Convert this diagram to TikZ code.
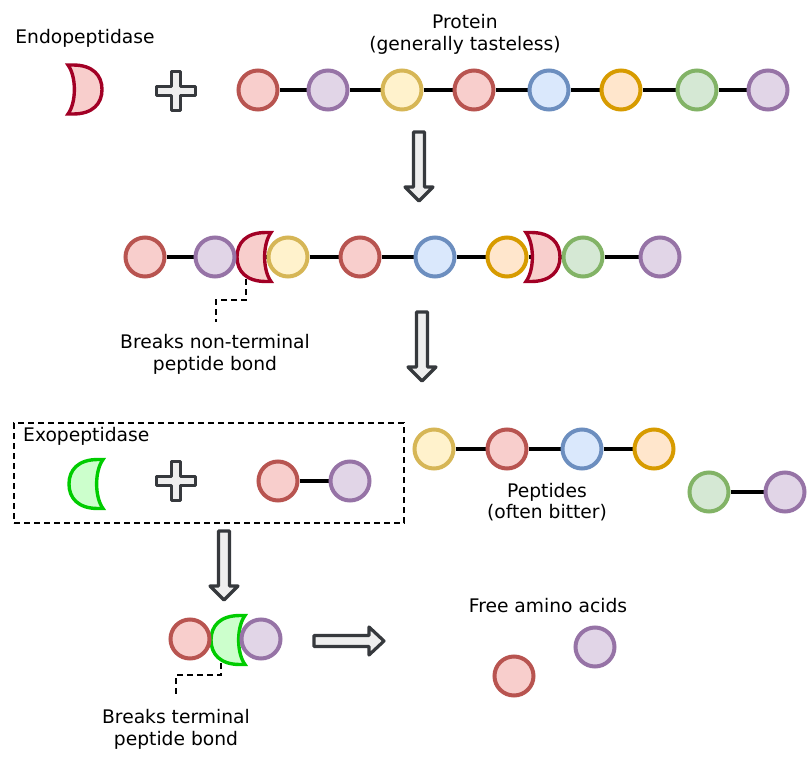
\documentclass[tikz,border=0pt]{standalone}
\usepackage{fontspec}
\setmainfont{DejaVu Sans}
\pgfdeclarelayer{bonds}
\pgfdeclarelayer{enz}
\pgfsetlayers{bonds,enz,main}
\definecolor{redF}{HTML}{F8CECC}\definecolor{redD}{HTML}{B85450}
\definecolor{purF}{HTML}{E1D5E7}\definecolor{purD}{HTML}{9673A6}
\definecolor{yelF}{HTML}{FFF2CC}\definecolor{yelD}{HTML}{D6B656}
\definecolor{bluF}{HTML}{DAE8FC}\definecolor{bluD}{HTML}{6C8EBF}
\definecolor{oraF}{HTML}{FFE6CC}\definecolor{oraD}{HTML}{D79B00}
\definecolor{greF}{HTML}{D5E8D4}\definecolor{greD}{HTML}{82B366}
\definecolor{endoF}{HTML}{F8CECC}\definecolor{endoD}{HTML}{A20025}
\definecolor{exoF}{HTML}{CCFFCC}\definecolor{exoD}{HTML}{00CC00}
\definecolor{arrF}{HTML}{EEEEEE}\definecolor{arrD}{HTML}{36393D}
\tikzset{
  aa/.style={circle, minimum size=39pt, inner sep=0pt, line width=4pt},
  aared/.style={aa, fill=redF, draw=redD},
  aapur/.style={aa, fill=purF, draw=purD},
  aayel/.style={aa, fill=yelF, draw=yelD},
  aablu/.style={aa, fill=bluF, draw=bluD},
  aaora/.style={aa, fill=oraF, draw=oraD},
  aagre/.style={aa, fill=greF, draw=greD},
  bond/.style={line width=4pt, black},
  callout/.style={line width=2pt, dash pattern=on 6pt off 4pt},
  lbl/.style={font=\fontsize{18.7}{22}\selectfont, align=center, inner sep=0pt, text=black},
  blockshape/.style={fill=arrF, draw=arrD, line width=3.2pt, line join=round},
  endostyle/.style={fill=endoF, draw=endoD, line width=3.4pt, line join=miter},
  exostyle/.style={fill=exoF, draw=exoD, line width=3.4pt, line join=miter},
  enzyme/.pic={
    \path[pic actions] (-17,-24.5) -- (-12,-24.5) .. controls (8,-24.5) and (17,-14) .. (17,0)
      .. controls (17,14) and (8,24.5) .. (-12,24.5) -- (-17,24.5)
      .. controls (-8.5,13) and (-8.5,-13) .. (-17,-24.5) -- cycle;
  },
  plussign/.pic={
    \path[pic actions] (-4.5,-19.5) -- (4.5,-19.5) -- (4.5,-4.5) -- (19.5,-4.5) -- (19.5,4.5) -- (4.5,4.5)
      -- (4.5,19.5) -- (-4.5,19.5) -- (-4.5,4.5) -- (-19.5,4.5) -- (-19.5,-4.5) -- (-4.5,-4.5) -- cycle;
  },
  downarrow/.pic={
    \path[pic actions] (-5.5,0) -- (5.5,0) -- (5.5,55) -- (14,55) -- (0,69) -- (-14,55) -- (-5.5,55) -- cycle;
  },
  rightarrow/.pic={
    \path[pic actions] (0,-5.5) -- (55,-5.5) -- (55,-14) -- (70,0) -- (55,14) -- (55,5.5) -- (0,5.5) -- cycle;
  },
}
\begin{document}
\begin{tikzpicture}[x=1pt,y=-1pt]
\useasboundingbox (0,0) rectangle (807,761);

% ---------- Row 1: endopeptidase + protein ----------
\node[lbl] (tEndo) at (85,38) {Endopeptidase};
\begin{pgfonlayer}{enz}
\pic[endostyle] at (85,89.5) {enzyme};
\end{pgfonlayer}
\pic[blockshape] at (176,91) {plussign};
\node[lbl] (tProt) at (465,34) {Protein\\(generally tasteless)};
\node[aared] (p1) at (258,90) {};
\node[aapur] (p2) at (328,90) {};
\node[aayel] (p3) at (402,90) {};
\node[aared] (p4) at (474,90) {};
\node[aablu] (p5) at (549,90) {};
\node[aaora] (p6) at (621,90) {};
\node[aagre] (p7) at (697,90) {};
\node[aapur] (p8) at (768,90) {};
\begin{pgfonlayer}{bonds}
\foreach \a/\b in {p1/p2,p2/p3,p3/p4,p4/p5,p5/p6,p6/p7,p7/p8} \draw[bond] (\a) -- (\b);
\end{pgfonlayer}

\pic[blockshape] at (419,132) {downarrow};

% ---------- Row 2: endopeptidase cutting ----------
\node[aared] (q1) at (145,257) {};
\node[aapur] (q2) at (215,257) {};
\node[aayel] (q3) at (288,257) {};
\node[aared] (q4) at (360,257) {};
\node[aablu] (q5) at (435,257) {};
\node[aaora] (q6) at (507,257) {};
\node[aagre] (q7) at (583,257) {};
\node[aapur] (q8) at (660,257) {};
\begin{pgfonlayer}{bonds}
\foreach \a/\b in {q1/q2,q2/q3,q3/q4,q4/q5,q5/q6,q6/q7,q7/q8} \draw[bond] (\a) -- (\b);
\end{pgfonlayer}
\begin{pgfonlayer}{enz}
\pic[endostyle, xscale=-1] at (254,257) {enzyme};
\pic[endostyle] at (543,257) {enzyme};
\end{pgfonlayer}
\coordinate (c1s) at (246,279);
\coordinate (c1e) at (216,322);
\draw[callout] (c1s) -- ++(0,21) -| (c1e);
\node[lbl] (tBreak1) at (215,354) {Breaks non-terminal\\peptide bond};

\pic[blockshape] at (422,312) {downarrow};

% ---------- Row 3: exopeptidase + peptides ----------
\node[draw, line width=2pt, dash pattern=on 6pt off 4pt, minimum width=390pt, minimum height=100pt, inner sep=0pt] (exobox) at (209,473) {};
\node[lbl, anchor=west] (tExo) at (23,436) {Exopeptidase};
\begin{pgfonlayer}{enz}
\pic[exostyle, xscale=-1] at (86,484) {enzyme};
\end{pgfonlayer}
\pic[blockshape] at (176,481) {plussign};
\node[aared] (e1) at (278,481) {};
\node[aapur] (e2) at (350,481) {};
\begin{pgfonlayer}{bonds}
\draw[bond] (e1) -- (e2);
\end{pgfonlayer}

\node[aayel] (s1) at (434,449) {};
\node[aared] (s2) at (507,449) {};
\node[aablu] (s3) at (582,449) {};
\node[aaora] (s4) at (654,449) {};
\node[aagre] (s5) at (709,492) {};
\node[aapur] (s6) at (785,492) {};
\begin{pgfonlayer}{bonds}
\foreach \a/\b in {s1/s2,s2/s3,s3/s4,s5/s6} \draw[bond] (\a) -- (\b);
\end{pgfonlayer}
\node[lbl, font=\fontsize{18.7}{21}\selectfont] (tPep) at (547,502) {Peptides\\(often bitter)};

\pic[blockshape] at (224,531) {downarrow};

% ---------- Row 4: exopeptidase cutting ----------
\node[aared] (f1) at (190,639) {};
\node[aapur] (f2) at (261,639) {};
\begin{pgfonlayer}{bonds}
\draw[bond] (f1) -- (f2);
\end{pgfonlayer}
\begin{pgfonlayer}{enz}
\pic[exostyle, xscale=-1] at (228,640) {enzyme};
\end{pgfonlayer}
\coordinate (c2s) at (221,663);
\coordinate (c2e) at (176,696);
\draw[callout] (c2s) -- ++(0,12) -| (c2e);
\node[lbl] (tBreak2) at (176,729) {Breaks terminal\\peptide bond};

\pic[blockshape] at (314,641) {rightarrow};

\node[lbl] (tFree) at (548,606) {Free amino acids};
\node[aared] (g1) at (514,676) {};
\node[aapur] (g2) at (595,647) {};
\end{tikzpicture}
\end{document}
